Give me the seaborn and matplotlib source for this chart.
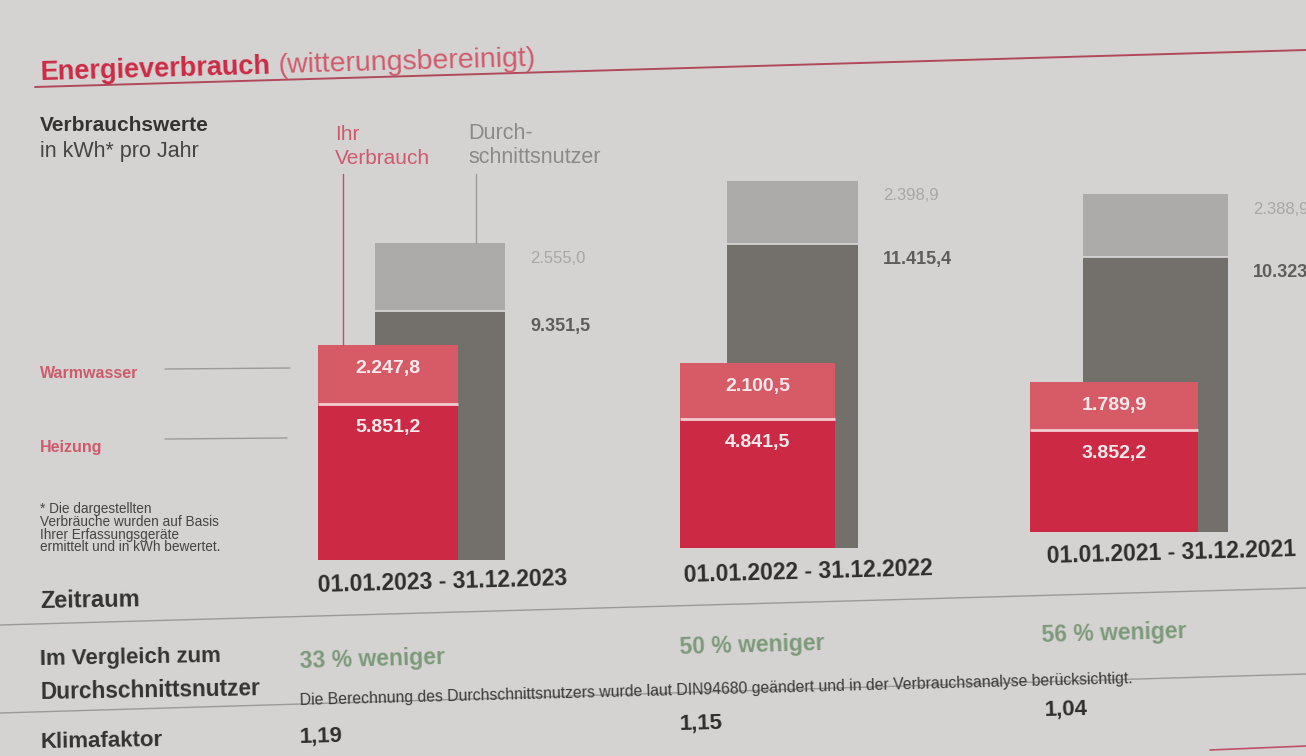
import matplotlib
matplotlib.use("Agg")
import matplotlib.pyplot as plt
from matplotlib.lines import Line2D
import seaborn as sns

# ---------------- data ----------------
periods = ["01.01.2023 - 31.12.2023", "01.01.2022 - 31.12.2022", "01.01.2021 - 31.12.2021"]
heizung = [5851.2, 4841.5, 3852.2]
warmwasser = [2247.8, 2100.5, 1789.9]
avg_heizung = [9351.5, 11415.4, 10323.5]
avg_warmwasser = [2555.0, 2398.9, 2388.9]
vergleich = ["33 % weniger", "50 % weniger", "56 % weniger"]
klimafaktor = ["1,19", "1,15", "1,04"]

# ---------------- style ----------------
sns.set_theme(style="white")
plt.rcParams["font.family"] = ["Liberation Sans", "DejaVu Sans"]

W, H = 1306, 756
BG = "#d5d3d2"
RED = "#cc2a44"
RED_LIGHT = "#d65b67"
DGREY = "#736f6b"
LGREY = "#adabaa"
TXT = "#333333"
PINK = "#cf5a6c"
GREEN = "#7c9a7a"
LINE = "#9c9a99"

fig = plt.figure(figsize=(W / 100, H / 100), dpi=100)
fig.patch.set_facecolor(BG)


def fx(x):
    return x / W


def fy(y):
    return 1 - y / H


def txt(x, y, s, rot=0.0, ha="left", va="baseline", **kw):
    fig.text(fx(x), fy(y), s, rotation=rot, rotation_mode="anchor", ha=ha, va=va, **kw)


def line(x0, y0, x1, y1, **kw):
    fig.add_artist(Line2D([fx(x0), fx(x1)], [fy(y0), fy(y1)], transform=fig.transFigure, **kw))


def de(v):
    s = f"{v:,.1f}"
    return s.replace(",", "X").replace(".", ",").replace("X", ".")


TILT = 1.6

# ---------------- title ----------------
txt(40, 80, "Energieverbrauch", rot=TILT, fontsize=19.5, fontweight="bold", color=RED)
txt(278, 73, "(witterungsbereinigt)", rot=TILT, fontsize=20.5, color=PINK)
line(35, 87, 1306, 50, color="#b04a5a", lw=1.4)

# ---------------- header labels ----------------
txt(40, 131, "Verbrauchswerte", fontsize=15, fontweight="bold", color=TXT)
txt(40, 157, "in kWh* pro Jahr", fontsize=15.5, color="#444444")
txt(335, 140, "Ihr", fontsize=15, color=PINK)
txt(335, 164, "Verbrauch", fontsize=15, color=PINK)
txt(468, 139, "Durch-", fontsize=15.5, color="#8c8a89")
txt(468, 163, "schnittsnutzer", fontsize=15.5, color="#8c8a89")

# ---------------- side labels ----------------
txt(40, 378, "Warmwasser", fontsize=11.5, fontweight="bold", color=PINK)
txt(40, 452, "Heizung", fontsize=11.5, fontweight="bold", color=PINK)
line(165, 369, 290, 368, color=LINE, lw=1)
line(165, 439, 287, 438, color=LINE, lw=1)
foot = ["* Die dargestellten", "Verbräuche wurden auf Basis",
        "Ihrer Erfassungsgeräte", "ermittelt und in kWh bewertet."]
for k, s in enumerate(foot):
    txt(40, 513 + 12.8 * k, s, fontsize=9.8, color="#444444")

# ---------------- bars (one axes per period) ----------------
red_left = [318, 680, 1030]
base = [560, 548, 532]
red_w = [140, 155, 168]
grey_off = [57, 47, 53]
grey_w = [130, 131, 145]
PX_PER_KWH = 0.0266
YMAX = 15000
AX_W = 340

for i in range(3):
    ax = fig.add_axes([fx(red_left[i]), fy(base[i]), AX_W / W, YMAX * PX_PER_KWH / H])
    ax.set_xlim(0, AX_W)
    ax.set_ylim(0, YMAX)
    ax.axis("off")
    ax.patch.set_alpha(0)
    gx, gw = grey_off[i], grey_w[i]
    ax.bar(gx, avg_heizung[i], width=gw, align="edge", color=DGREY, zorder=1, linewidth=0)
    ax.bar(gx, avg_warmwasser[i], bottom=avg_heizung[i], width=gw, align="edge",
           color=LGREY, zorder=1, linewidth=0)
    ax.hlines(avg_heizung[i], gx, gx + gw, color="#dcdad9", lw=1.2, zorder=2)
    rw = red_w[i]
    ax.bar(0, heizung[i], width=rw, align="edge", color=RED, zorder=3, linewidth=0)
    ax.bar(0, warmwasser[i], bottom=heizung[i], width=rw, align="edge",
           color=RED_LIGHT, zorder=3, linewidth=0)
    ax.hlines(heizung[i], 0, rw, color="#f3cdd1", lw=2, zorder=4)
    tot = heizung[i] + warmwasser[i]
    ax.annotate(de(warmwasser[i]), (rw / 2, tot), xytext=(0, -17), textcoords="offset points",
                ha="center", va="center", color="#fbeaec", fontsize=14,
                fontweight="bold", zorder=5, annotation_clip=False)
    ax.annotate(de(heizung[i]), (rw / 2, heizung[i]), xytext=(0, -17), textcoords="offset points",
                ha="center", va="center", color="#fbeaec", fontsize=14,
                fontweight="bold", zorder=5, annotation_clip=False)
    atot = avg_heizung[i] + avg_warmwasser[i]
    ax.annotate(de(avg_warmwasser[i]), (gx + gw, atot), xytext=(18, -11), textcoords="offset points",
                ha="left", va="center", color="#a9a7a6", fontsize=12, annotation_clip=False)
    ax.annotate(de(avg_heizung[i]), (gx + gw, avg_heizung[i]), xytext=(18, -11),
                textcoords="offset points", ha="left", va="center", color="#5f5c5a",
                fontsize=13, fontweight="bold", annotation_clip=False)

# pointer lines from "Ihr Verbrauch" / "Durchschnittsnutzer"
top_red = base[0] - (heizung[0] + warmwasser[0]) * PX_PER_KWH
top_grey = base[0] - (avg_heizung[0] + avg_warmwasser[0]) * PX_PER_KWH
line(343, 174, 343, top_red, color="#c0506a", lw=1)
line(476, 174, 476, top_grey, color=LINE, lw=1)

# ---------------- table rows ----------------
txt(40, 608, "Zeitraum", rot=1.0, fontsize=17, fontweight="bold", color=TXT)
date_x = [443, 808, 1172]
date_y = [589, 579, 560]
for i in range(3):
    txt(date_x[i], date_y[i], periods[i], rot=TILT, ha="center", fontsize=16.5,
        fontweight="bold", color="#2e2e2e")
line(0, 625, 1306, 588, color=LINE, lw=1)

txt(40, 665, "Im Vergleich zum", rot=1.0, fontsize=16, fontweight="bold", color=TXT)
txt(40, 699, "Durchschnittsnutzer", rot=1.0, fontsize=16.3, fontweight="bold", color=TXT)
pct_x = [300, 680, 1042]
pct_y = [668, 654, 642]
for i in range(3):
    txt(pct_x[i], pct_y[i], vergleich[i], rot=TILT, fontsize=16.5, fontweight="bold", color=GREEN)
txt(300, 705, "Die Berechnung des Durchschnittsnutzers wurde laut DIN94680 geändert und in der "
    "Verbrauchsanalyse berücksichtigt.", rot=1.5, fontsize=11.3, color="#3a3a3a")
line(0, 713, 1306, 674, color=LINE, lw=1)

txt(40, 748, "Klimafaktor", rot=1.0, fontsize=16, fontweight="bold", color=TXT)
kf_x = [300, 680, 1045]
kf_y = [743, 730, 716]
for i in range(3):
    txt(kf_x[i], kf_y[i], klimafaktor[i], rot=TILT, fontsize=16, fontweight="bold", color="#2e2e2e")
line(1210, 750, 1306, 746, color="#c0506a", lw=1.2)

fig.savefig("out.png", dpi=100, facecolor=BG)
